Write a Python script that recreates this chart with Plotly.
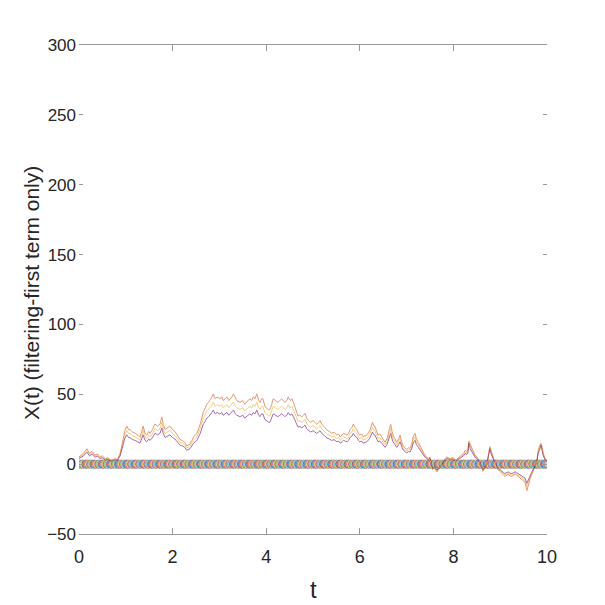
import numpy as np
import plotly.graph_objects as go

t = [0.00, 0.05, 0.10, 0.17, 0.22, 0.28, 0.34, 0.40, 0.45, 0.50, 0.56, 0.62, 0.68, 0.73, 0.77, 0.82, 0.88, 0.92, 0.95, 0.98,
     1.02, 1.06, 1.09, 1.15, 1.20, 1.25, 1.30, 1.34, 1.37, 1.41, 1.45, 1.49, 1.52, 1.57, 1.62, 1.68, 1.73, 1.77, 1.80, 1.84,
     1.89, 1.94, 2.00, 2.05, 2.10, 2.16, 2.21, 2.26, 2.30, 2.34, 2.37, 2.41, 2.45, 2.52, 2.55, 2.59, 2.62, 2.66, 2.70, 2.73,
     2.77, 2.80, 2.84, 2.87, 2.91, 2.95, 3.01, 3.05, 3.08, 3.12, 3.16, 3.20, 3.23, 3.27, 3.30, 3.34, 3.37, 3.44, 3.50, 3.54,
     3.58, 3.62, 3.65, 3.69, 3.72, 3.76, 3.80, 3.84, 3.87, 3.90, 3.93, 3.97, 4.00, 4.05, 4.08, 4.12, 4.15, 4.20, 4.25, 4.29,
     4.33, 4.37, 4.40, 4.44, 4.47, 4.51, 4.55, 4.58, 4.62, 4.65, 4.68, 4.72, 4.76, 4.80, 4.83, 4.87, 4.90, 4.95, 5.00, 5.04,
     5.08, 5.12, 5.15, 5.19, 5.22, 5.26, 5.30, 5.35, 5.40, 5.45, 5.51, 5.55, 5.58, 5.62, 5.65, 5.69, 5.73, 5.76, 5.79, 5.83,
     5.86, 5.90, 5.94, 5.97, 6.00, 6.04, 6.07, 6.11, 6.15, 6.19, 6.22, 6.27, 6.30, 6.32, 6.36, 6.39, 6.43, 6.47, 6.50, 6.54,
     6.58, 6.61, 6.64, 6.66, 6.69, 6.71, 6.75, 6.79, 6.83, 6.86, 6.90, 6.93, 6.97, 7.00, 7.04, 7.07, 7.11, 7.14, 7.18, 7.21,
     7.25, 7.29, 7.33, 7.36, 7.39, 7.43, 7.46, 7.50, 7.53, 7.56, 7.60, 7.65, 7.68, 7.71, 7.75, 7.78, 7.82, 7.86, 7.90, 7.93,
     7.97, 8.00, 8.04, 8.08, 8.11, 8.14, 8.18, 8.22, 8.25, 8.29, 8.31, 8.33, 8.36, 8.40, 8.43, 8.46, 8.50, 8.53, 8.57, 8.61,
     8.63, 8.67, 8.72, 8.74, 8.78, 8.80, 8.83, 8.86, 8.89, 8.92, 8.95, 9.00, 9.04, 9.07, 9.10, 9.14, 9.17, 9.21, 9.25, 9.29,
     9.32, 9.35, 9.38, 9.42, 9.47, 9.50, 9.53, 9.57, 9.60, 9.64, 9.67, 9.70, 9.75, 9.79, 9.81, 9.84, 9.87, 9.90, 9.92, 9.96,
     10.00]

# lowest trajectory (purple)
x_low = [4, 5, 6, 8.5, 6, 7, 5, 5.5, 4, 4.5, 3, 3.5, 2, 2.5, 3, 2.5, 6, 11, 16, 18.5,
         21, 19, 19, 17.5, 17, 16, 15, 18, 21, 17, 16, 18, 17, 19, 22, 21, 22, 26, 22, 19,
         20, 21, 19, 18, 16, 13.5, 13, 12, 10, 10.5, 11, 13, 15, 17, 19, 22, 25, 29, 31, 33,
         34, 35, 37, 38.7, 36, 37, 36, 37, 35, 36, 37, 35, 36, 37, 38.7, 36, 35, 34, 35, 33,
         34, 35, 36, 35, 37, 36, 38.7, 35, 34, 36, 36, 32, 31, 30, 30, 33, 36, 35, 34, 35,
         36, 35, 34, 35, 37, 35, 36, 34, 31, 28, 26.5, 27, 26, 27, 28, 25, 24, 23, 24, 23,
         22, 23, 24, 22, 21, 20, 18.6, 18, 17, 17.5, 16, 16.5, 15, 16, 17, 16.5, 16, 17, 19, 20,
         22, 20, 19, 17, 16, 16.5, 15, 15.5, 16, 17.5, 19, 23, 21, 21, 18, 16, 16.5, 15, 14, 12,
         14, 17, 19, 22, 18, 16, 14, 12, 14, 16, 12, 10, 9, 8, 9, 8.6, 11, 15, 17, 14,
         12, 10, 8.6, 7, 5, 4, 3, 4, 1, -3, -2, -4.3, -3, -2, 0, 1.4, 3, 4, 3.5, 3,
         3.5, 3.5, 2, 3, 3.5, 4, 5, 6, 7.6, 7, 8, 15, 11, 8.6, 7, 5, 4, 3, 1, -2,
         -4, -2, 0.5, 4, 11, 8, 5, 3, 1.6, -1, -3, -4, -5.5, -6, -6.7, -6, -5.5, -6.5, -6.7, -6,
         -5.5, -6, -6.7, -8, -9, -9.5, -10, -13.7, -11, -8, -6, -4, -1, 3, 7.6, 10, 13.6, 9, 6, 3,
         1.6]

# middle trajectory (yellow)
x_mid = [4.6, 5.8, 6.9, 9.8, 6.9, 8, 5.8, 6.3, 4.6, 5.2, 3.5, 4, 2.3, 2.9, 3.5, 2.9, 6.9, 12.7, 18.4, 21.3,
         24.2, 21.9, 21.9, 20.1, 19.6, 18.4, 17.3, 20.7, 24.2, 19.6, 18.4, 20.7, 19.6, 21.9, 25.3, 24.2, 25.3, 29.9, 25.3, 21.9,
         23, 24.2, 21.9, 20.7, 18.4, 15.5, 15, 13.8, 11.5, 12.1, 12.7, 15, 17.3, 19.6, 21.9, 25.3, 28.8, 33.4, 35.7, 38,
         39.1, 40.3, 42.6, 44.5, 41.4, 42.6, 41.4, 42.6, 40.3, 41.4, 42.6, 40.3, 41.4, 42.6, 44.5, 41.4, 40.3, 39.1, 40.3, 38,
         39.1, 40.3, 41.4, 40.3, 42.6, 41.4, 44.5, 40.3, 39.1, 41.4, 41.4, 36.8, 35.7, 34.5, 34.5, 38, 41.4, 40.3, 39.1, 40.3,
         41.4, 40.3, 39.1, 40.3, 42.6, 40.3, 41.4, 39.1, 35.7, 32.2, 30.5, 31.1, 29.9, 31.1, 32.2, 28.8, 27.6, 26.5, 27.6, 26.5,
         25.3, 26.5, 27.6, 25.3, 24.2, 23, 21.4, 20.7, 19.6, 20.1, 18.4, 19, 17.3, 18.4, 19.6, 19, 18.4, 19.6, 21.9, 23,
         25.3, 23, 21.9, 19.6, 18.4, 19, 17.3, 17.8, 18.4, 20.1, 21.9, 26.5, 24.2, 24.2, 20.7, 18.4, 19, 17.3, 16.1, 13.8,
         16.1, 19.6, 21.9, 25.3, 20.7, 18.4, 16.1, 13.8, 16.1, 18.4, 13.8, 11.5, 10.4, 9.2, 10.4, 9.9, 12.7, 17.3, 19.6, 16.1,
         13.8, 11.5, 9.9, 8, 5.8, 4.6, 3.5, 4.6, 1.2, -3.5, -2.3, -4.9, -3.5, -2.3, 0, 1.6, 3.5, 4.6, 4, 3.5,
         4, 4, 2.3, 3.5, 4, 4.6, 5.8, 6.9, 8.7, 8, 9.2, 16, 12.7, 9.9, 8, 5.8, 4.6, 3.5, 1.2, -2.3,
         -4.6, -2.3, 0.6, 4.6, 12, 9.2, 5.8, 3.5, 1.8, -1.2, -3.5, -4.6, -6.3, -6.9, -7.7, -6.9, -6.3, -7.5, -7.7, -6.9,
         -6.3, -6.9, -7.7, -9.2, -10.4, -10.9, -11.5, -15.8, -12.7, -9.2, -6.9, -4.6, -1.2, 3.5, 8.7, 11.5, 14.5, 10.4, 6.9, 3.5,
         1.8]

# highest trajectory (orange)
x_high = [5.2, 6.5, 7.8, 11, 7.8, 9.1, 6.5, 7.2, 5.2, 5.9, 3.9, 4.6, 2.6, 3.3, 3.9, 3.3, 7.8, 14.3, 20.8, 24,
          27.3, 24.7, 24.7, 22.8, 22.1, 20.8, 19.5, 23.4, 27.3, 22.1, 20.8, 23.4, 22.1, 24.7, 28.6, 27.3, 28.6, 33.8, 28.6, 24.7,
          26, 27.3, 24.7, 23.4, 20.8, 17.6, 16.9, 15.6, 13, 13.7, 14.3, 16.9, 19.5, 22.1, 24.7, 28.6, 32.5, 37.7, 40.3, 42.9,
          44.2, 45.5, 48.1, 50.3, 46.8, 48.1, 46.8, 48.1, 45.5, 46.8, 48.1, 45.5, 46.8, 48.1, 50.3, 46.8, 45.5, 44.2, 45.5, 42.9,
          44.2, 45.5, 46.8, 45.5, 48.1, 46.8, 50.3, 45.5, 44.2, 46.8, 46.8, 41.6, 40.3, 39, 39, 42.9, 46.8, 45.5, 44.2, 45.5,
          46.8, 45.5, 44.2, 45.5, 48.1, 45.5, 46.8, 44.2, 40.3, 36.4, 34.5, 35.1, 33.8, 35.1, 36.4, 32.5, 31.2, 29.9, 31.2, 29.9,
          28.6, 29.9, 31.2, 28.6, 27.3, 26, 24.2, 23.4, 22.1, 22.8, 20.8, 21.5, 19.5, 20.8, 22.1, 21.5, 20.8, 22.1, 24.7, 26,
          28.6, 26, 24.7, 22.1, 20.8, 21.5, 19.5, 20.2, 20.8, 22.8, 24.7, 29.9, 27.3, 27.3, 23.4, 20.8, 21.5, 19.5, 18.2, 15.6,
          18.2, 22.1, 24.7, 28.6, 23.4, 20.8, 18.2, 15.6, 18.2, 20.8, 15.6, 13, 11.7, 10.4, 11.7, 11.2, 14.3, 19.5, 22.1, 18.2,
          15.6, 13, 11.2, 9.1, 6.5, 5.2, 3.9, 5.2, 1.3, -3.9, -2.6, -5.6, -3.9, -2.6, 0, 1.8, 3.9, 5.2, 4.6, 3.9,
          4.6, 4.6, 2.6, 3.9, 4.6, 5.2, 6.5, 7.8, 9.9, 9.1, 10.4, 16.5, 14.3, 11.2, 9.1, 6.5, 5.2, 3.9, 1.3, -2.6,
          -5.2, -2.6, 0.7, 5.2, 12.5, 10.4, 6.5, 3.9, 2.1, -1.3, -3.9, -5.2, -7.2, -7.8, -8.7, -7.8, -7.2, -8.5, -8.7, -7.8,
          -7.2, -7.8, -8.7, -10.4, -11.7, -12.4, -13, -19, -14.3, -10.4, -7.8, -5.2, -1.3, 3.9, 9.9, 13, 15, 11.7, 7.8, 3.9,
          2.1]

# the filtered estimates that stay at zero (drawn as markers)
t_zero = list(np.round(np.arange(0, 10.001, 0.025), 3))
x_zero = [0] * len(t_zero)

y_ticks = [-50, 0, 50, 100, 150, 200, 250, 300]
x_ticks = [0, 2, 4, 6, 8, 10]

matlab = ["#0072BD", "#D95319", "#EDB120", "#7E2F8E", "#77AC30", "#4DBEEE", "#A2142F"]

fig = go.Figure()

fig.add_trace(go.Scatter(x=t, y=x_high, mode="lines",
                         line=dict(color="#D95319", width=1), opacity=0.6))
fig.add_trace(go.Scatter(x=t, y=x_mid, mode="lines",
                         line=dict(color="#EDB120", width=1), opacity=0.6))
fig.add_trace(go.Scatter(x=t, y=x_low, mode="lines",
                         line=dict(color="#7E2F8E", width=1), opacity=0.7))

fig.add_trace(go.Scatter(
    x=t_zero, y=x_zero, mode="markers",
    marker=dict(symbol="circle-open", size=8,
                color=[matlab[i % 7] for i in range(len(t_zero))],
                line=dict(width=1)),
    opacity=0.7,
))

font = "Liberation Sans Narrow, Arial Narrow, Liberation Sans, sans-serif"

# page body adds an 8px offset, so the figure is 597 wide and margins are shifted
fig.update_layout(
    width=597,
    height=597,
    showlegend=False,
    plot_bgcolor="white",
    paper_bgcolor="white",
    margin=dict(l=71, r=58, t=37, b=71),
    font=dict(family=font, size=17, color="#262626"),
    xaxis=dict(
        range=[0, 10],
        tickvals=x_ticks,
        showgrid=False,
        zeroline=False,
        showline=True,
        linecolor="#9a9a9a",
        linewidth=1,
        mirror="ticks",
        ticks="inside",
        ticklen=6,
        tickcolor="#9a9a9a",
        automargin=False,
        ticklabelstandoff=6,
        tickfont=dict(size=18),
    ),
    yaxis=dict(
        range=[-50, 300],
        tickvals=y_ticks,
        showgrid=False,
        zeroline=False,
        showline=False,
        mirror="ticks",
        ticks="inside",
        ticklen=4,
        tickcolor="#9a9a9a",
        automargin=False,
        ticklabelstandoff=2,
    ),
    annotations=[
        dict(text="t", xref="paper", yref="paper", x=0.5, y=-0.114,
             xanchor="center", yanchor="middle", showarrow=False,
             font=dict(size=24)),
        dict(text="X(t) (filtering-first term only)", xref="paper", yref="paper",
             x=-0.1, y=0.493, xanchor="center", yanchor="middle", textangle=-90,
             showarrow=False, font=dict(size=21)),
    ],
)

fig.write_html("out.html")
